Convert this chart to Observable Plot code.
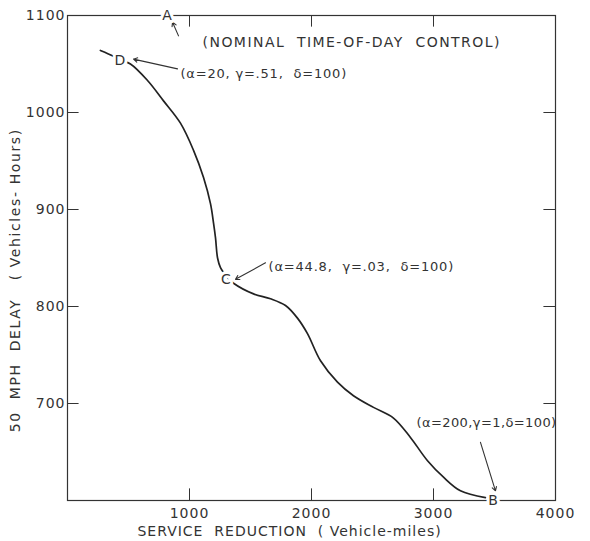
<!DOCTYPE html>
<html>
<head>
<meta charset="utf-8">
<script src="https://cdn.jsdelivr.net/npm/d3@7"></script>
<script src="https://cdn.jsdelivr.net/npm/@observablehq/plot@0.6"></script>
<style>
  html, body { margin: 0; padding: 0; background: #fff; }
  #chart svg text { white-space: pre; }
</style>
</head>
<body>
<div id="chart"></div>
<script>
// Delay vs. service reduction trade-off curve
const curveX = [270, 377, 434, 516, 656, 787, 926, 1033, 1115, 1172, 1197, 1213, 1230, 1254, 1311, 1361, 1525, 1664, 1787, 1885, 1967, 2074, 2213, 2344, 2508, 2672, 2811, 2951, 3082, 3221, 3426];
const curveY = [1064, 1058, 1054, 1050, 1033, 1012, 989, 961, 933, 906, 886, 871, 850, 840, 830, 824, 813, 808, 801, 788, 772, 744, 722, 708, 696, 685, 665, 641, 624, 610, 603];

const xTicks = [1000, 2000, 3000, 4000];
const yTicks = [700, 800, 900, 1000, 1100];
const innerX = [1000, 2000, 3000];
const innerY = [700, 800, 900, 1000];

// Lettered policy points on the curve
const pointNames = ["A", "D", "C", "B"];
const pointX = [820, 434, 1303, 3492];
const pointY = [1100, 1054, 828, 600];

// Parameter notes with leader arrows
const noteText = ["(NOMINAL  TIME-OF-DAY  CONTROL)", "(α=20, γ=.51,  δ=100)", "(α=44.8,  γ=.03,  δ=100)", "(α=200,γ=1,δ=100)"];
const noteX = [1107, 926, 1648, 2861];
const noteY = [1072, 1040, 841, 680];
const leadFromX = [910, 902, 1623, 3385];
const leadFromY = [1079, 1045, 845, 660];
const leadToX = [861, 541, 1377, 3508];
const leadToY = [1093, 1055, 828, 610];

const xLabel = "SERVICE  REDUCTION  ( Vehicle-miles)";
const yLabel = "50  MPH  DELAY   ( Vehicles- Hours)";

// letter spacing per lettered string
const spacing = new Map([
  [noteText[0], "1.45px"],
  [noteText[1], "0.8px"],
  [noteText[2], "0.8px"],
  [noteText[3], "0.4px"],
  [yLabel, "1.6px"]
]);

const ink = "#333";
const curve = curveX.map((x, i) => ({x, y: curveY[i]}));
const points = pointNames.map((name, i) => ({name, x: pointX[i], y: pointY[i]}));
const notes = noteText.map((text, i) => ({
  text, x: noteX[i], y: noteY[i], size: i === 0 ? 14 : 13,
  x1: leadFromX[i], y1: leadFromY[i], x2: leadToX[i], y2: leadToY[i]
}));

const chart = Plot.plot({
  width: 590,
  height: 541,
  marginLeft: 67,
  marginRight: 35,
  marginTop: 15,
  marginBottom: 41,
  x: {domain: [0, 4000]},
  y: {domain: [600, 1100]},
  style: {fontFamily: "DejaVu Sans", fontSize: "14px", color: ink, background: "#fff", letterSpacing: "1px"},
  marks: [
    Plot.frame({stroke: ink, strokeWidth: 1.2}),
    // inward tick marks on all four sides
    Plot.ruleX(innerX, {y1: 600, y2: 612, stroke: ink}),
    Plot.ruleX(innerX, {y1: 1100, y2: 1088, stroke: ink}),
    Plot.ruleY(innerY, {x1: 0, x2: 95, stroke: ink}),
    Plot.ruleY(innerY, {x1: 4000, x2: 3905, stroke: ink}),
    Plot.axisX(xTicks, {tickSize: 0, tickPadding: 8, label: null, tickFormat: "d", fontSize: 14}),
    Plot.axisY(yTicks, {tickSize: 0, tickPadding: 2, label: null, tickFormat: "d", fontSize: 14}),
    Plot.text([xLabel], {x: 1820, y: 600, dy: 31, fontSize: 14, fill: ink}),
    Plot.text([yLabel], {x: -425, y: 827, rotate: -90, fontSize: 14, fill: ink}),
    Plot.line(curve, {x: "x", y: "y", curve: "catmull-rom", stroke: "#222", strokeWidth: 1.7}),
    Plot.arrow(notes, {x1: "x1", y1: "y1", x2: "x2", y2: "y2", stroke: ink, strokeWidth: 1.1, headLength: 6}),
    Plot.text(notes, {x: "x", y: "y", text: "text", textAnchor: "start", fontSize: "size", fill: ink}),
    Plot.text(points, {x: "x", y: "y", text: "name", fontSize: 14, fill: ink, stroke: "#fff", strokeWidth: 6})
  ]
});

d3.select(chart).selectAll("text")
  .filter(function () { return spacing.has(this.textContent); })
  .style("letter-spacing", function () { return spacing.get(this.textContent); });

document.getElementById("chart").appendChild(chart);
</script>
</body>
</html>
